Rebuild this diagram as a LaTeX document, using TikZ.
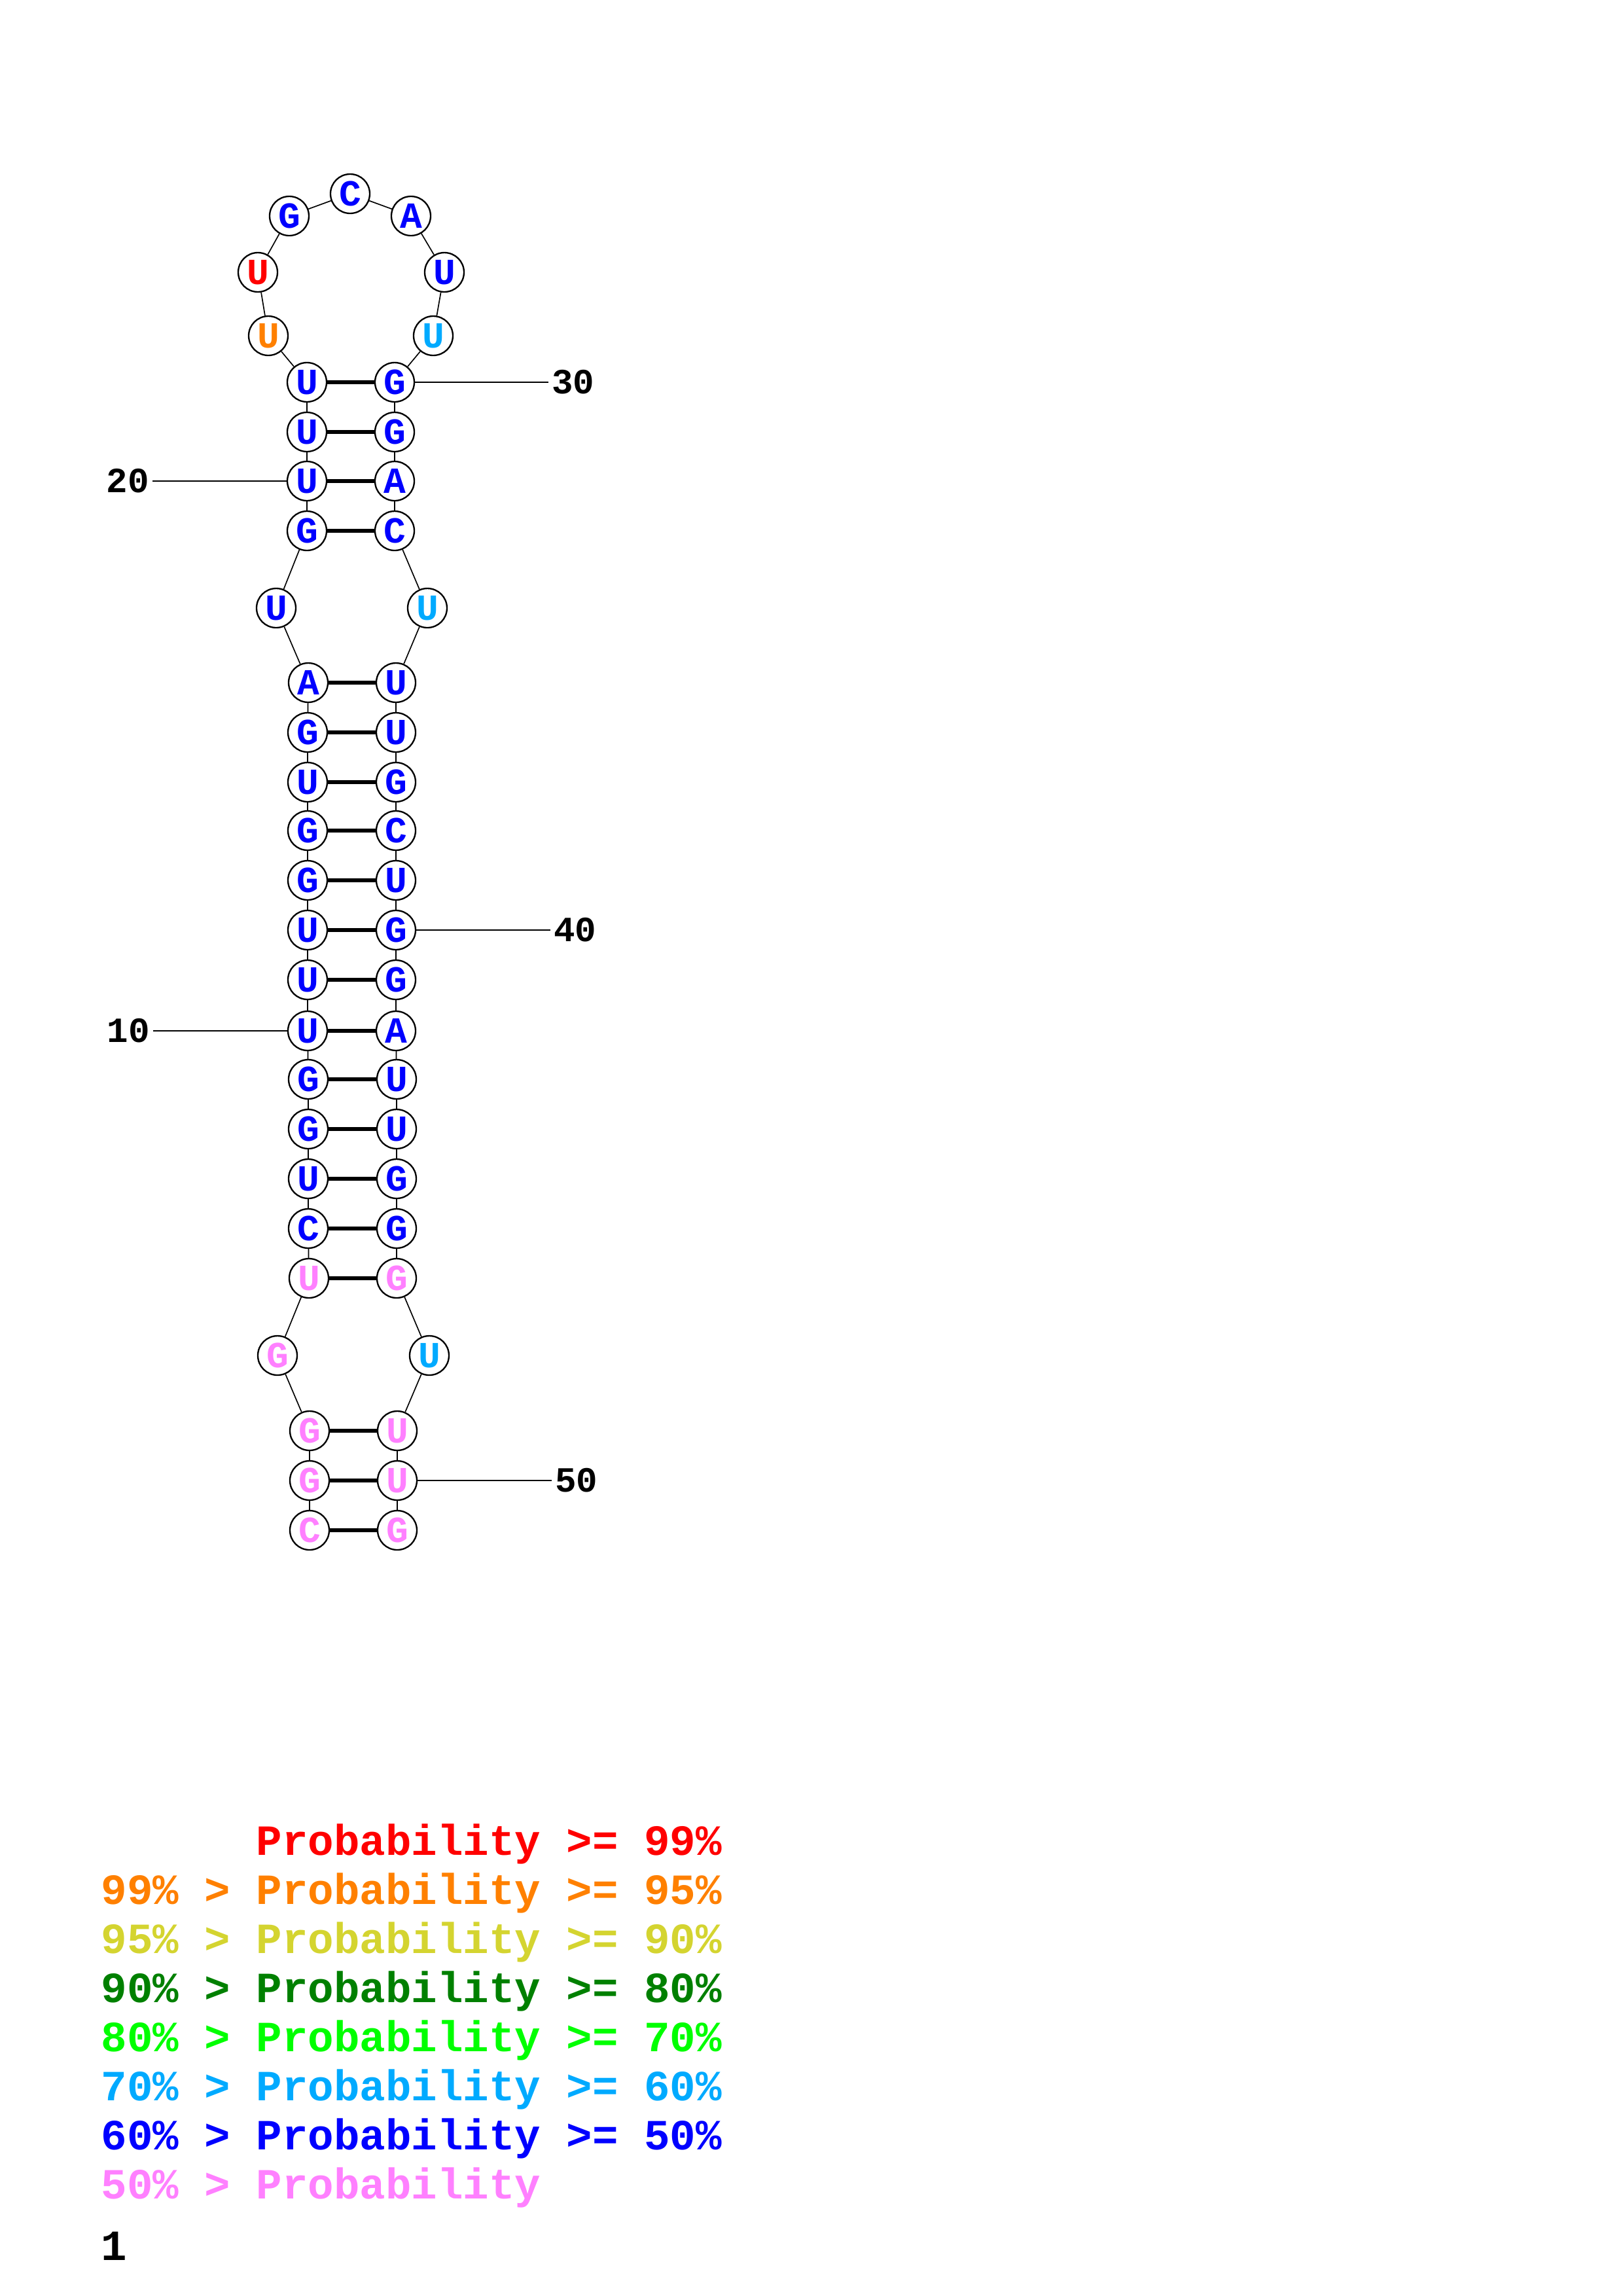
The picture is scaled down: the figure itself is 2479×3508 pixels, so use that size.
\documentclass[tikz,border=0pt]{standalone}
\usepackage{fontspec}
\setmonofont{Liberation Mono}
\usepackage{tikz}
\definecolor{rd}{RGB}{255,0,0}
\definecolor{or}{RGB}{255,128,0}
\definecolor{yl}{RGB}{212,212,48}
\definecolor{dg}{RGB}{0,128,0}
\definecolor{gr}{RGB}{0,255,0}
\definecolor{lb}{RGB}{0,170,255}
\definecolor{bl}{RGB}{0,0,255}
\definecolor{pk}{RGB}{255,128,255}

\begin{document}
\begin{tikzpicture}[x=0.24bp, y=-0.24bp,
    nt/.style={shape=circle, draw, fill=white, line width=0.56bp, minimum size=14.4bp, inner sep=0pt,
      font=\ttfamily\bfseries\fontsize{13.5bp}{13.5bp}\selectfont},
    bb/.style={line width=0.4bp},
    pr/.style={line width=1.6bp},
    lead/.style={line width=0.3bp},
    num/.style={inner sep=1bp, font=\ttfamily\bfseries\fontsize{13bp}{13bp}\selectfont},
    leg/.style={anchor=base west, inner sep=0pt, font=\ttfamily\bfseries\fontsize{15.8bp}{15.8bp}\selectfont}]
  \useasboundingbox (0,0) rectangle (2479,3508);

  \foreach \i/\px/\py/\nb/\col in {
      1/473/2338/C/pk, 2/473/2262/G/pk, 3/473/2186/G/pk, 4/424/2071/G/pk,
      5/472/1953/U/pk, 6/471/1877/C/bl, 7/471/1801/U/bl, 8/471/1725/G/bl,
      9/471/1649/G/bl, 10/470/1575/U/bl, 11/470/1497/U/bl, 12/470/1421/U/bl,
      13/470/1345/G/bl, 14/470/1269/G/bl, 15/470/1195/U/bl, 16/470/1119/G/bl,
      17/471/1043/A/bl, 18/422/929/U/bl, 19/469/811/G/bl, 20/469/735/U/bl,
      21/469/660/U/bl, 22/469/584/U/bl, 23/410/513/U/or, 24/394/416/U/rd,
      25/442/330/G/bl, 26/535/296/C/bl, 27/628/330/A/bl, 28/679/416/U/bl,
      29/662/513/U/lb, 30/603/584/G/bl, 31/603/660/G/bl, 32/603/735/A/bl,
      33/603/811/C/bl, 34/653/929/U/lb, 35/605/1043/U/bl, 36/605/1119/U/bl,
      37/605/1195/G/bl, 38/605/1269/C/bl, 39/605/1345/U/bl, 40/605/1421/G/bl,
      41/605/1497/G/bl, 42/605/1575/A/bl, 43/606/1649/U/bl, 44/606/1725/U/bl,
      45/606/1801/G/bl, 46/606/1877/G/bl, 47/606/1953/G/pk, 48/656/2071/U/lb,
      49/607/2186/U/pk, 50/607/2262/U/pk, 51/607/2338/G/pk}
    \node[nt, text=\col] (n\i) at (\px,\py) {\nb};

  \foreach \i in {1,...,50} {
    \pgfmathtruncatemacro\j{\i+1}
    \draw[bb] (n\i) -- (n\j);
  }
  \foreach \p/\q in {1/51,2/50,3/49,5/47,6/46,7/45,8/44,9/43,10/42,11/41,12/40,
      13/39,14/38,15/37,16/36,17/35,19/33,20/32,21/31,22/30}
    \draw[pr] (n\p) -- (n\q);

  \node[num, anchor=east] (l10) at (234,1575) {10};
  \node[num, anchor=east] (l20) at (233,735) {20};
  \node[num, anchor=west] (l30) at (838,584) {30};
  \node[num, anchor=west] (l40) at (841,1421) {40};
  \node[num, anchor=west] (l50) at (843,2262) {50};
  \draw[lead] (l10) -- (n10);
  \draw[lead] (l20) -- (n20);
  \draw[lead] (n30) -- (l30);
  \draw[lead] (n40) -- (l40);
  \draw[lead] (n50) -- (l50);

  \node[leg, text=rd] (p1) at (154,2834) {\phantom{99\% > }Probability >= 99\%};
  \node[leg, text=or] (p2) at (154,2909) {99\% > Probability >= 95\%};
  \node[leg, text=yl] (p3) at (154,2984) {95\% > Probability >= 90\%};
  \node[leg, text=dg] (p4) at (154,3059) {90\% > Probability >= 80\%};
  \node[leg, text=gr] (p5) at (154,3134) {80\% > Probability >= 70\%};
  \node[leg, text=lb] (p6) at (154,3209) {70\% > Probability >= 60\%};
  \node[leg, text=bl] (p7) at (154,3284) {60\% > Probability >= 50\%};
  \node[leg, text=pk] (p8) at (154,3359) {50\% > Probability};
  \node[leg] (idx) at (154,3453) {1};
\end{tikzpicture}
\end{document}
